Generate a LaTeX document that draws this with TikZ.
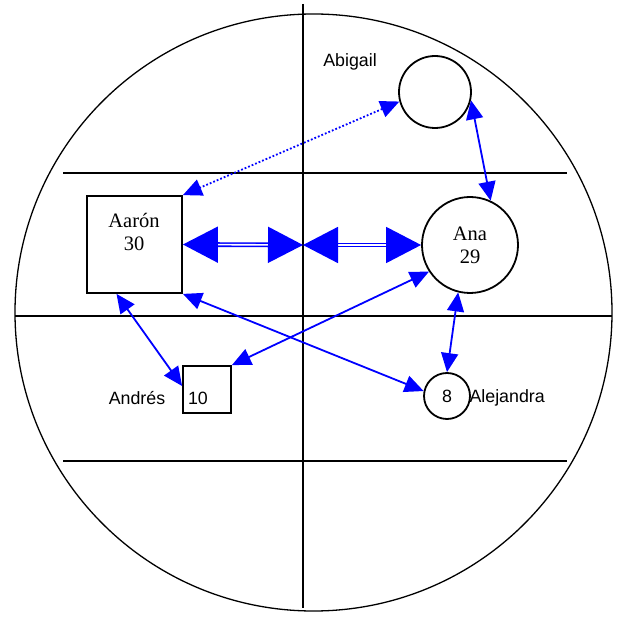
\documentclass[tikz,border=0pt]{standalone}
\usepackage{fontspec}
\setmainfont{Liberation Serif}
\newfontfamily\famsans{Liberation Sans}
\usepackage{tikz}
\usetikzlibrary{arrows.meta,positioning,calc}
\definecolor{famBlue}{HTML}{0000FF}

\tikzset{
  person/.style={draw=black,line width=1.8pt,inner sep=0pt},
  tie/.style={famBlue,line width=1.8pt,
    {Triangle[length=19pt,width=17pt]}-{Triangle[length=19pt,width=17pt]}},
  bigtie/.style={famBlue,line width=1.6pt,double=white,double distance=1.6pt,
    {Triangle[length=35pt,width=36pt]}-{Triangle[length=35pt,width=36pt]}},
  grid/.style={line width=2pt,black}
}

\begin{document}
\begin{tikzpicture}[x=1pt,y=-1pt,font=\fontsize{20.5}{24}\selectfont]
  \useasboundingbox (0,0) rectangle (619,617);
  % frame
  \draw[line width=1.3pt] (313.5,312.5) circle[radius=298.5];
  \draw[grid] (303,4) -- (303,608);
  \draw[grid] (63,173) -- (567,173);
  \draw[grid] (15,316) -- (612,316);
  \draw[grid] (63,461) -- (567,461);

  % family members
  \node[person,rectangle,minimum width=95pt,minimum height=97pt] (aaron) at (134.5,244.5) {};
  \node[align=center,inner sep=0pt] (aaronlbl) at (134,232) {Aar\'on\\[-1pt]30};
  \node[person,circle,minimum size=96pt,align=center] (ana) at (470,245) {Ana\\[-1pt]29};
  \node[person,circle,minimum size=72pt] (abigail) at (435,92) {};
  \node[font=\famsans\fontsize{17.8}{20}\selectfont] (abigaillbl) at (350,62) {Abigail};
  \node[person,rectangle,minimum width=48pt,minimum height=47pt] (andres) at (207,389.5) {};
  \node[font=\famsans\fontsize{17.8}{20}\selectfont] (andresnum) at (198,398) {10};
  \node[font=\famsans\fontsize{17.8}{20}\selectfont] (andreslbl) at (137,398) {Andr\'es};
  \node[person,circle,minimum size=46pt,font=\famsans\fontsize{17.8}{20}\selectfont] (alejandra) at (447,396) {8};
  \node[font=\famsans\fontsize{17.8}{20}\selectfont,anchor=west] (alejandralbl) at (466,398) {Alejandra};

  % ties
  \coordinate (mid) at (303,245);
  \draw[bigtie] (aaron.east) -- (mid);
  \draw[bigtie] (mid) -- (ana.west);
  \draw[tie,dotted] (abigail.195) -- (aaron.north east);
  \draw[tie] (abigail.-13) -- (ana.65);
  \draw[tie] (ana.-104) -- (alejandra.north);
  \draw[tie] (ana.213) -- (andres.north east);
  \draw[tie] (aaron.south east) -- (alejandra.168);
  \draw[tie] (aaron.250) -- (andres.172);
\end{tikzpicture}
\end{document}
